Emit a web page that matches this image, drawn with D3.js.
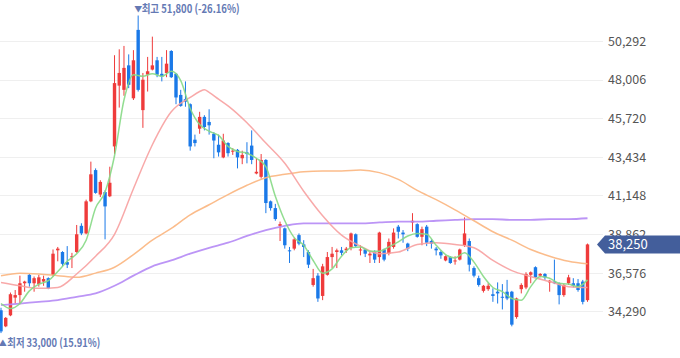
<!DOCTYPE html>
<html><head><meta charset="utf-8">
<script src="https://cdn.jsdelivr.net/npm/d3@7"></script>
<style>
html,body{margin:0;padding:0;background:#fff;}
svg{display:block;}
text{font-family:"Noto Sans CJK KR","Noto Sans",sans-serif;}
</style></head><body>
<svg id="c" width="680" height="358"></svg>
<script>
const opens=[34350,33400,34050,35100,35250,35950,36450,35950,35900,36050,36250,36450,37900,37800,37200,37500,37800,39350,38900,40800,
42650,41200,41350,41100,44050,47650,47400,48850,46900,50950,46200,48300,48600,49150,48350,48400,49700,48350,47100,46850,
46550,44450,45100,45800,45500,44800,44150,43400,44250,43750,43850,43350,43700,44100,42450,42250,43250,40800,40400,39350,
39200,37900,38000,38800,38250,37800,35850,36400,35200,36450,37500,37800,37900,37900,38050,38850,37900,37950,37600,37800,
37500,37950,37700,38100,39300,38950,38300,39550,39450,38700,39300,38450,38000,37800,37300,37500,37250,37350,38200,38450,
36850,36250,35500,35600,35300,35450,35150,35450,35450,33950,35600,35700,36450,36900,36400,36500,36000,36050,35950,35250,
35950,35950,35950,36050,34950];
const highs=[34500,33950,35400,35550,36400,36100,36500,36350,36450,36400,36300,37950,38100,37850,38150,37750,39400,39500,40900,43150,
42750,42050,41450,42850,49450,49800,50000,49500,49750,51800,48400,49350,50550,49350,49350,49750,49750,48400,47400,47900,
46600,44750,46100,45900,46250,44900,44750,44800,44300,43950,43900,43800,44300,45000,43350,43600,43300,40850,40650,39600,
39250,38100,38650,38900,38500,37900,36800,36550,37100,37800,38100,38000,38100,38100,38950,38900,38200,38000,37800,37900,
39000,38000,38600,39200,39400,39100,38350,40100,39500,39300,39400,38550,38100,37900,37600,37550,37550,38000,39850,38600,
36950,36400,35850,35950,35650,36000,35900,36150,35500,35100,35950,36600,36650,36950,36550,36550,36150,37350,36000,35900,
36450,36250,36200,36150,38300];
const lows=[33000,33350,34000,34750,34700,35450,35750,35450,35750,35800,35600,36350,37250,36950,36850,36850,37750,38800,38850,40750,
41250,41050,38550,41050,43600,46350,47050,47500,46800,47300,45150,47300,48550,48150,47900,48150,48100,46550,46400,46400,
43800,44050,44800,45000,44750,43350,43450,43350,43450,43550,42750,43000,43050,43000,42400,42150,40100,40250,39650,38450,
38000,37150,37900,38200,37500,36850,35750,34850,34950,36400,36850,36850,37600,37750,37900,38100,37600,37500,37150,37150,
37150,37250,37600,38000,38600,38350,37850,39000,38650,38200,38150,38000,37600,37400,37250,37100,37050,37300,38100,36650,
36300,35750,35400,35500,34850,34750,34400,34950,33400,33850,35350,35600,35950,36250,36300,36150,35450,35900,34700,35150,
35850,35700,35450,34700,34850];
const closes=[33100,33900,35300,35250,35950,36050,35950,36250,36300,36200,35650,37700,38000,37100,37050,37550,38850,38900,40800,42400,
41300,41950,40500,41900,47800,48400,48700,47700,49150,47400,48000,48500,48850,48300,48200,48950,48150,46950,46450,46700,
44050,44250,45800,45200,45300,44400,43700,44400,43650,43800,43400,43550,43600,43250,42550,43250,40700,40400,39750,39450,
38200,37850,38550,38300,38100,37050,36250,35050,36950,37500,37700,37900,37750,38000,38900,38150,37950,37700,37700,37350,
38950,37350,38400,38950,39000,38850,38000,39650,38700,39150,38350,38300,37900,37600,37550,37150,37300,37950,38900,37050,
36400,35850,35800,35800,35200,35350,35100,35050,33500,35050,35850,36500,36600,36300,36500,36300,36100,35950,35250,35850,
36300,35800,35550,34850,38250];

const ma5Idx=d3.range(0,125,2);
const ma5=[34750,34450,34750,35500,35900,36100,36650,37250,37700,38500,40400,41350,43500,46800,48300,48200,48350,48200,48500,47950,
46300,45350,44950,44700,44050,43750,43650,43350,42850,41100,39650,38650,38200,37300,36550,36800,37550,38050,38100,37850,
37850,38100,38400,38750,38900,38850,38200,37650,37450,37750,37200,36350,35700,35450,35050,34950,35750,36350,36250,35950,
35900,35750,36150];
const ma20Idx=[0,4,8,12,16,20,24,28,32,36,40,42,43,44,46,48,52,56,60,64,68,72,76,80,84,88,92,96,100,104,108,112,116,120,124];
const ma20=[36000,35800,35650,35700,36500,37550,38850,41550,44150,46100,46950,47300,47400,47250,46850,46450,45450,44250,43050,41400,
39950,38800,38150,37700,37800,38250,38350,38250,38050,37300,36700,36350,36050,35750,35700];
const ma60Idx=d3.range(0,125,4);
const ma60=[36400,36550,36500,36400,36300,36550,36900,37650,38500,39200,40000,40600,41200,41750,42200,42400,42550,42600,42600,42650,
42500,42100,41450,40900,40300,39650,39000,38500,37950,37550,37250,37100];
const ma120Idx=d3.range(0,125,4);
const ma120=[34650,34750,34850,34950,35150,35350,35800,36400,36950,37300,37700,38050,38350,38750,39100,39350,39500,39500,39500,39500,
39550,39600,39600,39650,39700,39750,39750,39700,39700,39750,39750,39800];

const yTicks=[34290,36576,38862,41148,43434,45720,48006,50292];
const highLabel={idx:29,price:51800,pct:"-26.16%",name:"최고"};
const lowLabel={idx:0,price:33000,pct:"15.91%",name:"최저"};
const lastPrice=38250;

const svg=d3.select("#c");
const fmt=d3.format(",");
const x=d3.scaleLinear().domain([0,124]).range([1,587.5]);
const y=d3.scaleLinear().domain([34290,50292]).range([311.3,41]);
const bw=3.4;

// grid
svg.append("g").selectAll("line").data(yTicks).join("line")
  .attr("x1",0).attr("x2",603).attr("y1",d=>Math.round(y(d))+0.5).attr("y2",d=>Math.round(y(d))+0.5)
  .attr("stroke","#efefef").attr("stroke-width",1);

// axis labels
const axis=d3.axisRight(y).tickValues(yTicks).tickFormat(fmt).tickSize(0).tickPadding(0);
const ag=svg.append("g").attr("transform","translate(608,0)").call(axis);
ag.select(".domain").remove();
ag.selectAll("text").attr("fill","#555").attr("font-size","12.5px")
  .attr("font-family",'"Noto Sans CJK KR","Noto Sans",sans-serif').attr("dy","0.35em").attr("x",0);

// candles
const data=opens.map((o,i)=>({i,o,h:highs[i],l:lows[i],c:closes[i]}));
const col=d=>d.c>=d.o?"#ef3b3b":"#1a79e8";
const cg=svg.append("g");
cg.selectAll("line").data(data).join("line")
  .attr("x1",d=>x(d.i)).attr("x2",d=>x(d.i)).attr("y1",d=>y(d.h)).attr("y2",d=>y(d.l))
  .attr("stroke",col).attr("stroke-width",1);
cg.selectAll("rect").data(data).join("rect")
  .attr("x",d=>x(d.i)-bw/2).attr("width",bw)
  .attr("y",d=>y(Math.max(d.o,d.c)))
  .attr("height",d=>Math.max(1,Math.abs(y(d.o)-y(d.c))))
  .attr("fill",col);

// moving averages
const lines=[
  {idx:ma120Idx,v:ma120,c:"#b58af5",w:1.8},
  {idx:ma60Idx,v:ma60,c:"#fbb57e",w:1.5},
  {idx:ma20Idx,v:ma20,c:"#f7a0a0",w:1.5},
  {idx:ma5Idx,v:ma5,c:"#86d985",w:1.5}
];
const lg=d3.line().x(d=>x(d[0])).y(d=>y(d[1])).curve(d3.curveMonotoneX);
svg.append("g").selectAll("path").data(lines).join("path")
  .attr("d",d=>lg(d.idx.map((k,j)=>[k,d.v[j]])))
  .attr("fill","none").attr("stroke",d=>d.c).attr("stroke-width",d=>d.w).attr("opacity",0.9);

// high / low annotations
const annColor="#6479b4";
function ann(lbl,yy,tri,tx,triX,len){
  const g=svg.append("g");
  g.append("text").attr("x",triX).attr("y",yy).attr("text-anchor","middle").attr("dy","0.35em")
   .attr("font-size","8px").attr("fill",annColor).text(tri);
  g.append("text").attr("x",tx).attr("y",yy).attr("dy","0.36em")
   .attr("font-size","11.5px").attr("font-weight","700").attr("fill",annColor)
   .attr("textLength",len).attr("lengthAdjust","spacingAndGlyphs")
   .text(lbl.name+" "+fmt(lbl.price)+" ("+lbl.pct+")");
}
ann(highLabel,9,"▼",x(highLabel.idx)+3.5,x(highLabel.idx)+0.2,98);
ann(lowLabel,343,"▲",x(lowLabel.idx)+6.3,x(lowLabel.idx)+1.8,93);

// last price tag
const py=y(lastPrice);
svg.append("path")
  .attr("d",`M597,${py} L605,${py-9} L680,${py-9} L680,${py+9} L605,${py+9} Z`)
  .attr("fill","#435e9b");
svg.append("text").attr("x",608).attr("y",py).attr("dy","0.36em")
  .attr("font-size","13px").attr("fill","#fff").text(fmt(lastPrice));
</script></body></html>
